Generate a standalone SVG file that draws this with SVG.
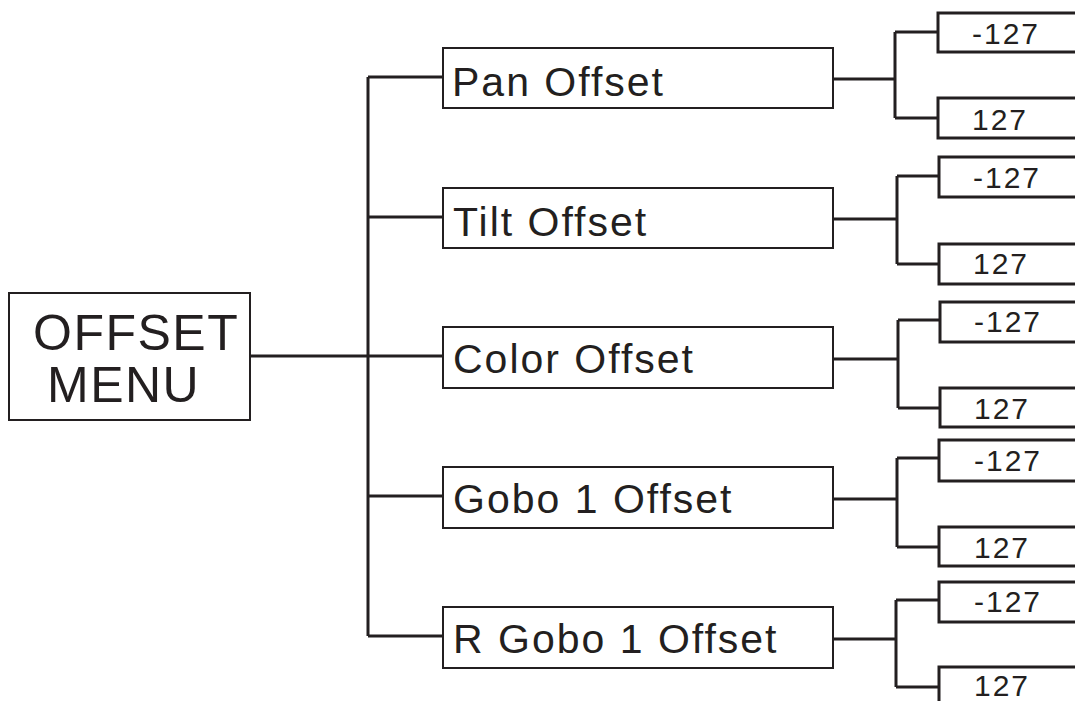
<svg xmlns="http://www.w3.org/2000/svg" width="1075" height="701" viewBox="0 0 1075 701">
<style>
.bg{fill:#ffffff}
.box{fill:#ffffff;stroke:#231f20;stroke-width:2}
.vbox{fill:#ffffff;stroke:#231f20;stroke-width:3}
.conn{fill:none;stroke:#231f20;stroke-width:3}
.t-main{font-family:"Liberation Sans",Arial,sans-serif;font-size:50px;letter-spacing:1.5px;fill:#231f20}
.t-mid{font-family:"Liberation Sans",Arial,sans-serif;font-size:41px;letter-spacing:2px;fill:#231f20}
.t-val{font-family:"Liberation Sans",Arial,sans-serif;font-size:30px;letter-spacing:2px;fill:#231f20}
</style>
<rect class="bg" x="0" y="0" width="1075" height="701"/>

<g id="connectors">
  <path class="conn" d="M250 356 H368"/>
  <path class="conn" d="M368 77 V636"/>
  <path class="conn" d="M368 77 H443 M368 217 H443 M368 356 H443 M368 496 H443 M368 636 H443"/>
  <path class="conn" d="M833 79 H895 M895 32 V118 M895 32 H938 M895 118 H938"/>
  <path class="conn" d="M833 219 H897 M897 176 V264 M897 176 H939 M897 264 H939"/>
  <path class="conn" d="M833 359 H898 M898 320 V408 M898 320 H940 M898 408 H940"/>
  <path class="conn" d="M833 499 H897 M897 458 V547 M897 458 H939 M897 547 H939"/>
  <path class="conn" d="M833 639 H896 M896 600 V687 M896 600 H939 M896 687 H939"/>
</g>

<g id="offset-menu">
  <rect class="box" x="9" y="293" width="241" height="127"/>
  <text class="t-main" x="33" y="350">OFFSET</text>
  <text class="t-main" x="47" y="402">MENU</text>
</g>

<g id="pan-offset">
  <rect class="box" x="443" y="48" width="390" height="60"/>
  <text class="t-mid" x="452" y="96">Pan Offset</text>
</g>
<g id="tilt-offset">
  <rect class="box" x="443" y="188" width="390" height="60"/>
  <text class="t-mid" x="453" y="236">Tilt Offset</text>
</g>
<g id="color-offset">
  <rect class="box" x="443" y="327" width="390" height="61"/>
  <text class="t-mid" x="453" y="373">Color Offset</text>
</g>
<g id="gobo1-offset">
  <rect class="box" x="443" y="467" width="390" height="61"/>
  <text class="t-mid" x="453" y="513">Gobo 1 Offset</text>
</g>
<g id="rgobo1-offset">
  <rect class="box" x="443" y="607" width="390" height="61"/>
  <text class="t-mid" x="453" y="653">R Gobo 1 Offset</text>
</g>

<g id="pan-min">
  <rect class="vbox" x="938" y="13" width="150" height="39"/>
  <text class="t-val" x="972" y="44">-127</text>
</g>
<g id="pan-max">
  <rect class="vbox" x="938" y="98" width="150" height="40"/>
  <text class="t-val" x="972" y="130">127</text>
</g>
<g id="tilt-min">
  <rect class="vbox" x="939" y="157" width="150" height="40"/>
  <text class="t-val" x="973" y="188">-127</text>
</g>
<g id="tilt-max">
  <rect class="vbox" x="939" y="244" width="150" height="40"/>
  <text class="t-val" x="973" y="274">127</text>
</g>
<g id="color-min">
  <rect class="vbox" x="940" y="302" width="150" height="40"/>
  <text class="t-val" x="974" y="332">-127</text>
</g>
<g id="color-max">
  <rect class="vbox" x="940" y="388" width="150" height="39"/>
  <text class="t-val" x="974" y="419">127</text>
</g>
<g id="gobo1-min">
  <rect class="vbox" x="939" y="440" width="150" height="41"/>
  <text class="t-val" x="974" y="471">-127</text>
</g>
<g id="gobo1-max">
  <rect class="vbox" x="939" y="527" width="150" height="39"/>
  <text class="t-val" x="974" y="558">127</text>
</g>
<g id="rgobo1-min">
  <rect class="vbox" x="939" y="582" width="150" height="40"/>
  <text class="t-val" x="974" y="612">-127</text>
</g>
<g id="rgobo1-max">
  <rect class="vbox" x="939" y="667" width="150" height="40"/>
  <text class="t-val" x="974" y="696">127</text>
</g>
</svg>
